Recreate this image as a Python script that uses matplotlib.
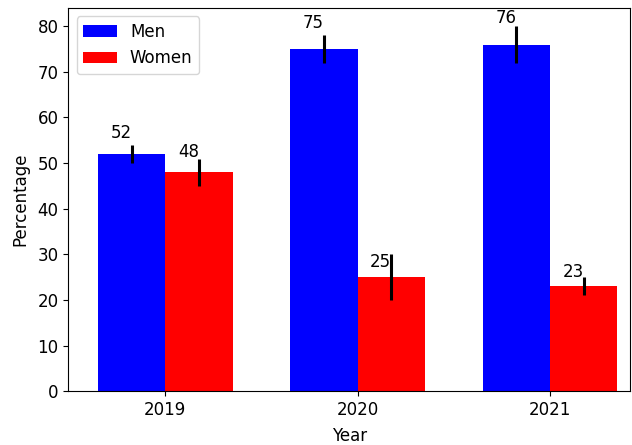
import numpy as np
import matplotlib
matplotlib.use('Agg')
import matplotlib.pyplot as plt

# data
years = ['2019', '2020', '2021']
men = [52, 75, 76]
women = [48, 25, 23]
men_err = [2, 3, 4]
women_err = [3, 5, 2]

plt.rcParams['font.size'] = 12

x = np.arange(len(years))
width = 0.35

fig = plt.figure(figsize=(6.32, 4.45), dpi=100)
ax = fig.add_axes([0.108, 0.121, 0.889, 0.861])

rects_men = ax.bar(x - width / 2, men, width, color='blue', yerr=men_err,
                   error_kw=dict(ecolor='black', elinewidth=2.2), label='Men')
rects_women = ax.bar(x + width / 2, women, width, color='red', yerr=women_err,
                     error_kw=dict(ecolor='black', elinewidth=2.2), label='Women')


def autolabel(rects):
    # value above each bar, right-aligned on the bar centre
    for rect in rects:
        height = rect.get_height()
        ax.text(rect.get_x() + rect.get_width() / 2., 1.05 * height,
                '%d' % int(height), ha='right', va='bottom')


autolabel(rects_men)
autolabel(rects_women)

ax.set_xticks(x)
ax.set_xticklabels(years)
ax.set_xlabel('Year', labelpad=6)
ax.set_ylabel('Percentage', labelpad=6)
ax.set_xlim(-0.504, 2.416)
ax.set_ylim(0, 84)
ax.legend(loc='upper left')

fig.savefig('out.png', dpi=100)
